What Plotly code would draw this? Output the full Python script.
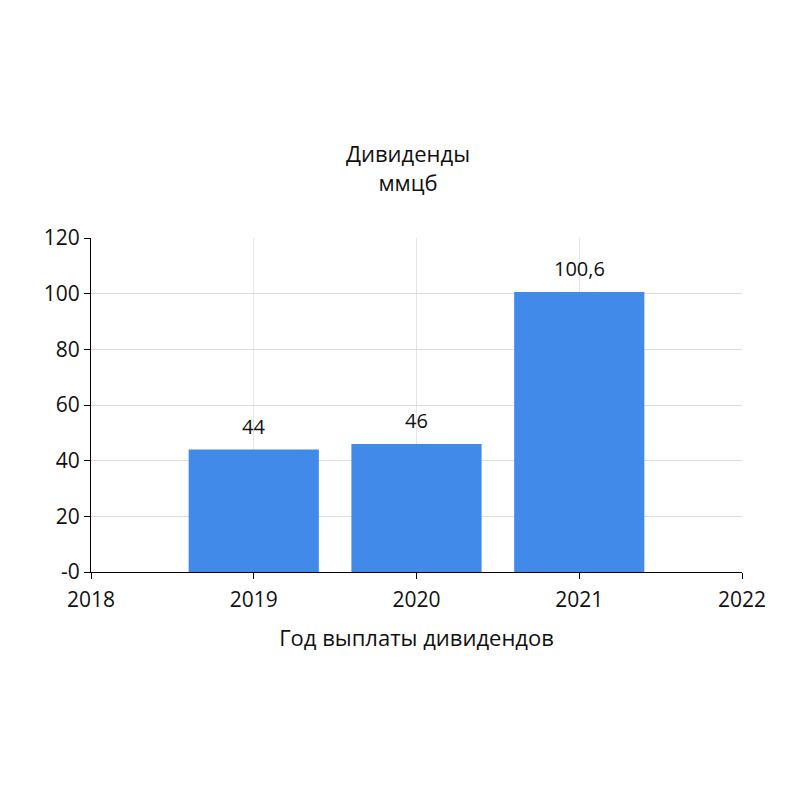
import plotly.graph_objects as go

# dividend payments by year
years = [2019, 2020, 2021]
dividends = [44, 46, 100.6]
labels = ["44", "46", "100,6"]

x_ticks = [2018, 2019, 2020, 2021, 2022]
y_ticks = [0, 20, 40, 60, 80, 100, 120]
y_ticktext = ["-0", "20", "40", "60", "80", "100", "120"]

FONT = "Open Sans, Noto Sans, sans-serif"

fig = go.Figure()
fig.add_bar(x=years, y=dividends, width=0.8, marker_color="#418AEA",
            marker_line_width=0)

# value labels sit a bit above each bar
for x, y, t in zip(years, dividends, labels):
    fig.add_annotation(x=x, y=y, text=t, showarrow=False, yanchor="bottom",
                       yshift=8, font=dict(size=20, color="#111"))

fig.update_layout(
    width=800, height=800,
    margin=dict(l=83, r=66, t=230, b=236),
    paper_bgcolor="white", plot_bgcolor="white",
    font=dict(family=FONT, size=21, color="#111"),
    title=dict(text="Дивиденды<br>ммцб", x=0.5, xanchor="center",
               y=0.807, yanchor="middle", font=dict(size=22)),
    showlegend=False,
)
fig.update_xaxes(range=[2018, 2022], tickvals=x_ticks,
                 showline=True, linecolor="black", linewidth=1.2,
                 ticks="outside", ticklen=6, tickcolor="black",
                 ticklabelstandoff=3,
                 showgrid=True, gridcolor="#e6e6e6", zeroline=False,
                 title=dict(text="Год выплаты дивидендов", standoff=18,
                            font=dict(size=22)))
fig.update_yaxes(range=[0, 120], tickvals=y_ticks, ticktext=y_ticktext,
                 showline=True, linecolor="black", linewidth=1.2,
                 ticks="outside", ticklen=6, tickcolor="black",
                 showgrid=True, gridcolor="#dcdcdc", zeroline=False)

fig.write_html("out.html")
